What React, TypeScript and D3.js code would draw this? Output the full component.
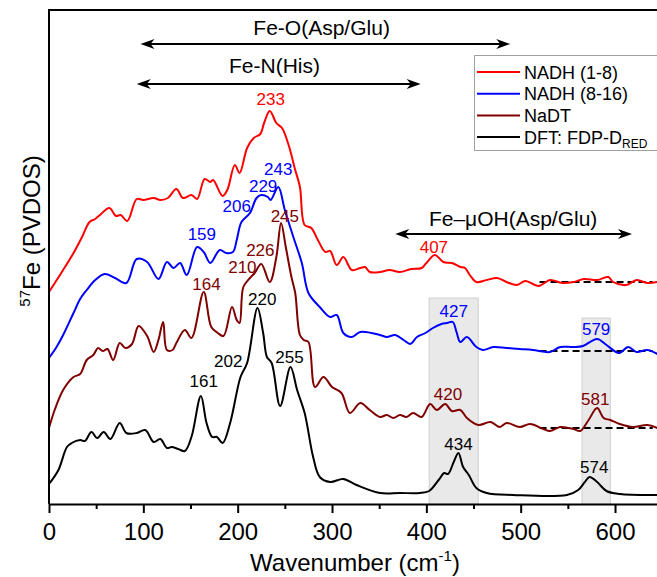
import React, { useEffect, useRef } from 'react';
import * as d3 from 'd3';

// spectra: [wavenumber (cm-1), stacked intensity]
const nadh18: [number, number][] = [
  [0, 212], [15, 234], [26, 251], [35, 267], [43, 282], [49, 285], [54, 289], [64, 296], [71, 288],
  [76, 289], [83, 283], [93, 305], [100, 304], [111, 306], [118, 304], [126, 306], [135, 315],
  [142, 306], [151, 309], [157, 305], [165, 325], [171, 322], [174, 324], [184, 308], [189, 314],
  [197, 339], [202, 331], [210, 356], [217, 366], [224, 370], [228, 381], [234, 393], [241, 381],
  [247, 376], [254, 359], [261, 334], [266, 317], [271, 279], [278, 276], [285, 264], [293, 252],
  [298, 253], [305, 239], [312, 247], [321, 234], [330, 236], [335, 237], [340, 232], [351, 232],
  [361, 234], [372, 232], [384, 235], [395, 236], [400, 241], [409, 249], [418, 242], [427, 241],
  [436, 237], [441, 236], [446, 229], [453, 222], [464, 224], [475, 226], [485, 222], [496, 219],
  [505, 223], [519, 218], [531, 224], [544, 221], [556, 222], [567, 225], [581, 224], [593, 227],
  [598, 222], [612, 219], [623, 224], [634, 221], [645, 222],
];

const nadh816: [number, number][] = [
  [0, 146], [8, 157], [15, 169], [26, 191], [33, 205], [40, 214], [49, 224], [59, 230], [70, 226],
  [82, 221], [93, 245], [104, 242], [116, 225], [125, 242], [132, 236], [139, 241], [146, 229],
  [157, 257], [164, 252], [171, 241], [181, 254], [188, 251], [195, 252], [199, 264], [204, 282],
  [213, 291], [220, 306], [225, 309], [232, 307], [235, 304], [243, 317], [250, 294], [259, 267],
  [268, 241], [275, 211], [287, 197], [298, 187], [305, 189], [312, 171], [321, 167], [330, 172],
  [351, 169], [358, 167], [367, 169], [376, 164], [383, 160], [390, 167], [399, 171], [407, 176],
  [416, 180], [422, 181], [428, 182], [432, 172], [436, 162], [443, 167], [453, 157], [460, 154],
  [471, 157], [485, 156], [499, 155], [513, 154], [531, 152], [542, 157], [556, 157], [566, 158],
  [581, 165], [591, 159], [604, 151], [614, 157], [623, 152], [634, 154], [645, 150],
];

const nadt: [number, number][] = [
  [0, 76], [6, 94], [15, 114], [26, 127], [33, 130], [40, 144], [47, 149], [52, 156], [57, 153],
  [62, 155], [68, 144], [75, 161], [81, 156], [88, 160], [95, 178], [104, 168], [111, 152],
  [116, 164], [121, 182], [125, 154], [131, 154], [135, 161], [144, 174], [151, 166], [164, 212],
  [172, 177], [179, 171], [185, 168], [194, 197], [199, 184], [202, 181], [206, 217], [213, 226],
  [218, 231], [225, 240], [234, 222], [241, 247], [246, 281], [251, 257], [257, 227], [261, 211],
  [266, 169], [270, 164], [275, 162], [282, 117], [291, 127], [300, 117], [310, 111], [319, 91],
  [330, 101], [340, 94], [351, 87], [358, 89], [365, 86], [372, 89], [379, 87], [386, 91],
  [395, 87], [404, 100], [411, 94], [420, 100], [427, 93], [436, 94], [443, 86], [455, 79],
  [468, 82], [478, 77], [485, 81], [499, 77], [510, 80], [524, 75], [531, 73], [542, 77],
  [556, 75], [563, 73], [572, 84], [581, 96], [588, 86], [595, 84], [605, 80], [619, 77],
  [634, 79], [645, 76],
];

const dft: [number, number][] = [
  [0, 20], [10, 34], [19, 57], [24, 61], [33, 64], [38, 63], [45, 72], [51, 66], [58, 72], [65, 65],
  [75, 81], [82, 71], [93, 71], [102, 74], [111, 62], [118, 65], [125, 56], [130, 57], [137, 55],
  [144, 53], [151, 67], [161, 108], [167, 81], [173, 67], [178, 67], [184, 61], [192, 81],
  [203, 127], [210, 141], [221, 196], [227, 171], [231, 147], [236, 141], [245, 98], [256, 137],
  [263, 114], [271, 91], [280, 47], [287, 27], [298, 22], [312, 25], [326, 19], [351, 11],
  [372, 11], [393, 11], [403, 13], [413, 24], [419, 31], [423, 30], [429, 42], [434, 51],
  [439, 37], [445, 29], [453, 16], [464, 11], [492, 9], [549, 9], [561, 14], [568, 22], [573, 27],
  [581, 22], [591, 13], [605, 10], [645, 9],
];

const seriesData = [dft, nadt, nadh816, nadh18];
const seriesColors = ['#000000', '#800000', '#0000ff', '#ff0000'];

const legendNames = ['NADH (1-8)', 'NADH (8-16)', 'NaDT', 'DFT: FDP-D'];
const legendColors = ['#ff0000', '#0000ff', '#800000', '#000000'];

// zero lines (dashed) of the three experimental traces
const baselineLevels = [222, 153, 76];
const baselineColors = ['#000', '#000', '#000'];

// shaded regions [from, to, top]
const bands: [number, number, number][] = [
  [403, 455, 206],
  [565, 595, 186],
];

// peak labels [text, wavenumber, intensity, colour]
const peakLabels: [string, number, number, string][] = [
  ['233', 235, 399, '#ff0000'],
  ['407', 408, 251, '#ff0000'],
  ['243', 243, 329, '#0000ff'],
  ['229', 227, 312, '#0000ff'],
  ['206', 199, 292, '#0000ff'],
  ['159', 162, 264, '#0000ff'],
  ['427', 429, 187, '#0000ff'],
  ['579', 580, 169, '#0000ff'],
  ['245', 250, 282, '#800000'],
  ['226', 224, 248, '#800000'],
  ['210', 205, 231, '#800000'],
  ['164', 167, 214, '#800000'],
  ['420', 423, 104, '#800000'],
  ['581', 579, 99, '#800000'],
  ['220', 226, 199, '#000000'],
  ['202', 190, 137, '#000000'],
  ['255', 255, 141, '#000000'],
  ['161', 164, 117, '#000000'],
  ['434', 434, 54, '#000000'],
  ['574', 578, 31, '#000000'],
];

// assignment ranges [label, from, to, arrow level, label centre, label level]
const ranges: [string, number, number, number, number, number][] = [
  ['Fe-O(Asp/Glu)', 97, 489, 460, 289, 469],
  ['Fe-N(His)', 93, 394, 420, 239, 431],
  ['Fe\u2013\u03bcOH(Asp/Glu)', 367, 618, 270, 492, 278],
];

const xTicks = [0, 100, 200, 300, 400, 500, 600];
const xMinor = [50, 150, 250, 350, 450, 550];

const W = 657;
const H = 577;
const FONT = 'Liberation Sans, Arial, Helvetica, sans-serif';

const App = () => {
  const ref = useRef<SVGSVGElement>(null);

  useEffect(() => {
    const svg = d3.select(ref.current);
    svg.selectAll('*').remove();

    const x = d3.scaleLinear().domain([0, 644.5]).range([49, 657]);
    const y = d3.scaleLinear().domain([0, 494]).range([504, 10]);

    svg.append('rect').attr('width', W).attr('height', H).attr('fill', '#fff');

    // bands
    svg
      .selectAll('rect.band')
      .data(bands)
      .enter()
      .append('rect')
      .attr('class', 'band')
      .attr('x', (d) => x(d[0]))
      .attr('y', (d) => y(d[2]))
      .attr('width', (d) => x(d[1]) - x(d[0]))
      .attr('height', (d) => y(0) - y(d[2]))
      .attr('fill', '#e9e9e9')
      .attr('stroke', '#cfcfcf')
      .attr('stroke-width', 1);

    // dashed zero lines
    svg
      .selectAll('line.base')
      .data(baselineLevels)
      .enter()
      .append('line')
      .attr('x1', x(520))
      .attr('x2', x(640))
      .attr('y1', (d) => y(d))
      .attr('y2', (d) => y(d))
      .attr('stroke', (d, i) => baselineColors[i])
      .attr('stroke-width', 2)
      .attr('stroke-dasharray', '7,4');

    const line = d3
      .line<[number, number]>()
      .x((d) => x(d[0]))
      .y((d) => y(d[1]))
      .curve(d3.curveCatmullRom.alpha(0.5));

    svg
      .selectAll('path.spec')
      .data(seriesData)
      .enter()
      .append('path')
      .attr('d', (d) => line(d))
      .attr('fill', 'none')
      .attr('stroke', (d, i) => seriesColors[i])
      .attr('stroke-width', 2)
      .attr('stroke-linejoin', 'round');

    // peak labels
    svg
      .selectAll('text.peak')
      .data(peakLabels)
      .enter()
      .append('text')
      .attr('x', (d) => x(d[1]))
      .attr('y', (d) => y(d[2]))
      .attr('text-anchor', 'middle')
      .attr('font-family', FONT)
      .attr('font-size', 17)
      .attr('fill', (d) => d[3])
      .text((d) => d[0]);

    // double arrows for the assignment ranges
    const head = (px: number, py: number, dir: number) =>
      `M${px},${py}L${px + dir * 14},${py - 5}L${px + dir * 10},${py}L${px + dir * 14},${py + 5}Z`;
    ranges.forEach((r) => {
      const [label, a, b, lvl, tx, ty] = r;
      svg
        .append('line')
        .attr('x1', x(a) + 6)
        .attr('x2', x(b) - 6)
        .attr('y1', y(lvl))
        .attr('y2', y(lvl))
        .attr('stroke', '#000')
        .attr('stroke-width', 2);
      svg.append('path').attr('d', head(x(a), y(lvl), 1)).attr('fill', '#000');
      svg.append('path').attr('d', head(x(b), y(lvl), -1)).attr('fill', '#000');
      svg
        .append('text')
        .attr('x', x(tx))
        .attr('y', y(ty))
        .attr('text-anchor', 'middle')
        .attr('font-family', FONT)
        .attr('font-size', 21)
        .text(label);
    });

    // legend
    const lg = svg.append('g');
    lg.append('rect')
      .attr('x', 474.5)
      .attr('y', 55.5)
      .attr('width', 200)
      .attr('height', 95)
      .attr('fill', '#fff')
      .attr('stroke', '#a0a0a0')
      .attr('stroke-width', 1);
    legendNames.forEach((name, i) => {
      const ly = 72 + i * 21.7;
      lg.append('line')
        .attr('x1', 477)
        .attr('x2', 520)
        .attr('y1', ly)
        .attr('y2', ly)
        .attr('stroke', legendColors[i])
        .attr('stroke-width', 2);
      const t = lg
        .append('text')
        .attr('x', 524)
        .attr('y', ly + 6.5)
        .attr('font-family', FONT)
        .attr('font-size', 18)
        .text(name);
      if (i === 3) t.append('tspan').attr('font-size', 12).attr('dy', 4).text('RED');
    });

    // frame: top line and left axis
    svg
      .append('path')
      .attr('d', `M${x(0)},${y(0)}V${y(494)}H${W + 2}`)
      .attr('fill', 'none')
      .attr('stroke', '#000')
      .attr('stroke-width', 2);

    // x axis
    const xAxis = svg
      .append('g')
      .attr('transform', `translate(0,${y(0)})`)
      .call(d3.axisBottom(x).tickValues(xTicks).tickSize(9).tickSizeOuter(0).tickPadding(10));
    xAxis.select('.domain').attr('stroke-width', 2);
    xAxis.selectAll('.tick line').attr('stroke-width', 2);
    xAxis.selectAll('.tick text').attr('font-family', FONT).attr('font-size', 24).attr('fill', '#000');

    const minor = svg
      .append('g')
      .attr('transform', `translate(0,${y(0)})`)
      .call(d3.axisBottom(x).tickValues(xMinor).tickSize(5).tickFormat(() => ''));
    minor.select('.domain').remove();
    minor.selectAll('.tick line').attr('stroke-width', 2);

    // axis titles
    const xt = svg
      .append('text')
      .attr('x', 355)
      .attr('y', 571)
      .attr('text-anchor', 'middle')
      .attr('font-family', FONT)
      .attr('font-size', 24)
      .text('Wavenumber (cm');
    xt.append('tspan').attr('font-size', 15).attr('dy', -10).text('-1');
    xt.append('tspan').attr('dy', 10).text(')');

    const yt = svg
      .append('text')
      .attr('transform', 'translate(40,231) rotate(-90)')
      .attr('text-anchor', 'middle')
      .attr('font-family', FONT)
      .attr('font-size', 24);
    yt.append('tspan').attr('font-size', 15).attr('dy', -10).text('57');
    yt.append('tspan').attr('dy', 10).text('Fe (PVDOS)');
  }, []);

  return (
    <svg
      ref={ref}
      width={W}
      height={H}
      style={{ position: 'absolute', left: 0, top: 0, display: 'block' }}
    />
  );
};

export default App;
